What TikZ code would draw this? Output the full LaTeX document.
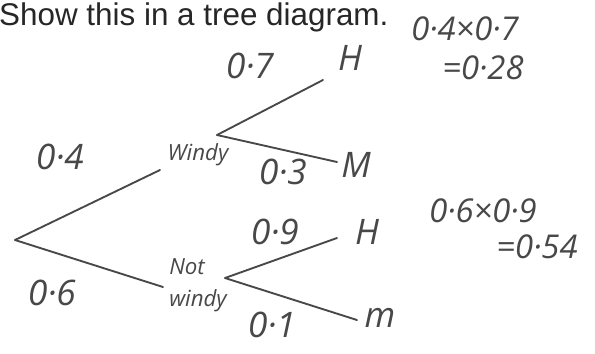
\documentclass[tikz,border=0pt]{standalone}
\usepackage{fontspec}
\setmainfont{Liberation Sans}
\newfontfamily\handfont{Open Sans}
\usepackage{tikz}
\usetikzlibrary{positioning}
\definecolor{pencil}{RGB}{72,72,72}
\tikzset{
  branch/.style={
    draw = pencil,
    line width = 1.6pt,
    line cap = round
  },
  prob/.style={
    font = \handfont\itshape\fontsize{30}{32}\selectfont,
    text = pencil,
    inner sep = 0pt
  },
  calc/.style={
    font = \handfont\itshape\fontsize{28}{30}\selectfont,
    text = pencil,
    inner sep = 0pt
  },
  word/.style={
    font = \handfont\itshape\fontsize{19}{21}\selectfont,
    text = pencil,
    inner sep = 0pt
  },
  title/.style={
    font = \fontsize{26.8}{30}\selectfont,
    text = black!85,
    inner sep = 0pt,
    anchor = base west
  }
}

\begin{document}
\begin{tikzpicture}[x=0.03cm, y=-0.03cm]
    \useasboundingbox (0,0) rectangle (595,353);
    \node[title] (heading) at (-1,25) {Show this in a tree diagram.};
    % branch points
    \coordinate (root) at (15,240);
    \coordinate (windy) at (217,135);
    \coordinate (notwindy) at (225,278);
    \coordinate (windyend) at (160,170);
    \coordinate (notwindyend) at (163,287);
    \coordinate (hA) at (323,80);
    \coordinate (mA) at (337,162);
    \coordinate (hB) at (337,238);
    \coordinate (mB) at (357,320);
    \draw[branch] (root) -- (windyend);
    \draw[branch] (root) -- (notwindyend);
    \draw[branch] (windy) -- (hA);
    \draw[branch] (windy) -- (mA);
    \draw[branch] (notwindy) -- (hB);
    \draw[branch] (notwindy) -- (mB);
    % labels
    \node[prob] (pW) at (60,157) {0·4};
    \node[prob] (pN) at (52,293) {0·6};
    \node[word] (lW) at (198,155) {Windy};
    \node[word, align=left] (lN) at (198,285) {Not\\[6pt]windy};
    \node[prob] (pWH) at (250,66) {0·7};
    \node[prob] (pWM) at (283,172) {0·3};
    \node[prob] (pNH) at (275,232) {0·9};
    \node[prob] (pNM) at (272,325) {0·1};
    \node[prob] (oWH) at (350,58) {H};
    \node[prob] (oWM) at (356,165) {M};
    \node[prob] (oNH) at (367,232) {H};
    \node[prob] (oNM) at (380,318) {m};
    \node[calc] (cA) at (465,29) {0·4×0·7};
    \node[calc] (rA) at (483,68) {=0·28};
    \node[calc] (cB) at (483,211) {0·6×0·9};
    \node[calc] (rB) at (537,247) {=0·54};
\end{tikzpicture}
\end{document}
